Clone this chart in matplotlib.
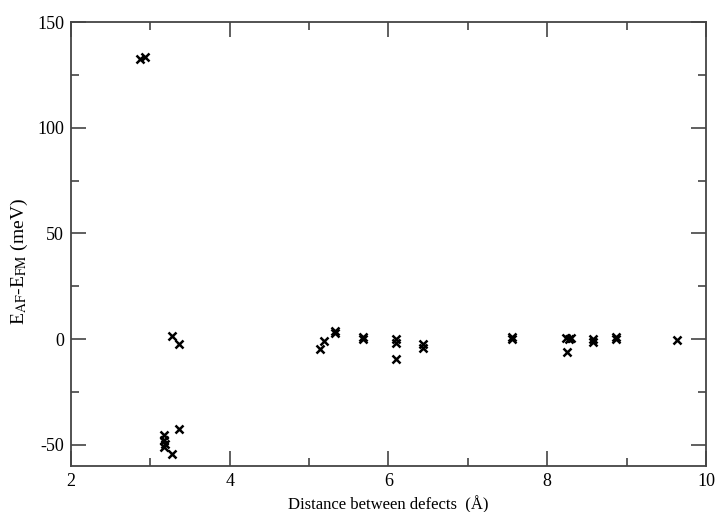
import matplotlib
matplotlib.use("Agg")
import matplotlib.pyplot as plt
from matplotlib.ticker import MultipleLocator

plt.rcParams['font.family'] = ['Liberation Serif', 'DejaVu Serif']
plt.rcParams['mathtext.fontset'] = 'stix'
plt.rcParams['axes.unicode_minus'] = False

distance = [2.87, 2.93, 3.17, 3.17, 3.18, 3.17, 3.27, 3.36, 3.27, 3.36,
            5.14, 5.19, 5.32, 5.33, 5.68, 5.68, 6.09, 6.09, 6.10, 6.43, 6.43,
            7.56, 7.56, 8.24, 8.27, 8.30, 8.25, 8.58, 8.58, 8.86, 8.86, 9.63]
energy = [132.5, 133.5, -45.5, -47.5, -49.5, -51.0, -54.5, -42.5, 1.5, -2.4,
          -4.7, -0.7, 3.1, 4.0, 0.0, 1.0, 0.0, -2.0, -9.5, -2.4, -4.3,
          0.0, 1.0, 0.5, 0.0, 0.5, -6.2, 0.0, -1.5, 0.0, 1.0, -0.2]

xticks = [2, 4, 6, 8, 10]
yticks = [-50, 0, 50, 100, 150]

fig = plt.figure(figsize=(7.15, 5.12), dpi=100)
ax = fig.add_axes([0.0993, 0.0898, 0.8881, 0.8672])

ax.plot(distance, energy, linestyle='none', marker='x', color='black',
        markersize=6, markeredgewidth=1.8)

ax.set_xlim(2, 10)
ax.set_ylim(-60, 150)
ax.set_xticks(xticks)
ax.set_yticks(yticks)
ax.xaxis.set_minor_locator(MultipleLocator(1))
ax.yaxis.set_minor_locator(MultipleLocator(25))

ax.tick_params(which='both', direction='in', top=True, right=True,
               color='#444444', width=1.2, labelsize=13)
ax.tick_params(which='major', length=11, pad=5)
ax.tick_params(which='minor', length=5.5)
for s in ax.spines.values():
    s.set_color('#444444')
    s.set_linewidth(1.3)

ax.set_xlabel('Distance between defects  (Å)', fontsize=12, labelpad=4)
ax.set_ylabel(r'E$_{\mathrm{AF}}$-E$_{\mathrm{FM}}$ (meV)', fontsize=14)
ax.yaxis.set_label_coords(-0.064, 0.46)

fig.savefig('out.png', dpi=100)
